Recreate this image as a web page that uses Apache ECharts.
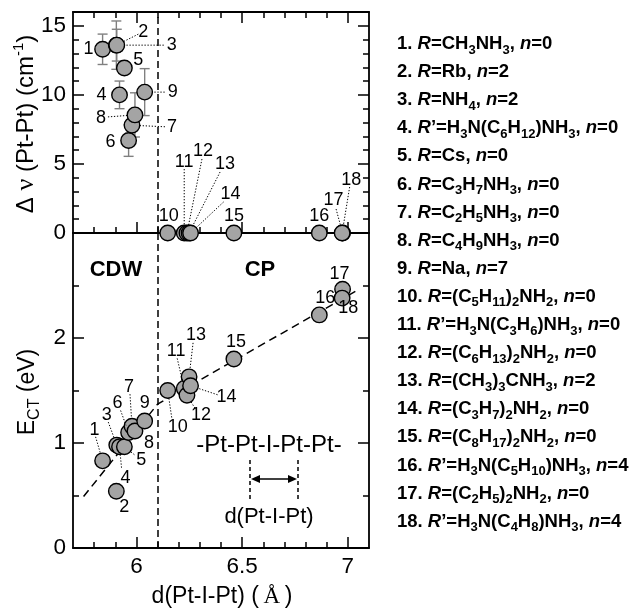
<!DOCTYPE html>
<html><head><meta charset="utf-8">
<script src="https://cdn.jsdelivr.net/npm/echarts@6/dist/echarts.min.js"></script>
<style>html,body{margin:0;padding:0;background:#fff}#c{width:636px;height:609px}</style>
</head><body><div id="c"></div>
<script>
// ---------------- data ----------------
const compoundNo = ['1','2','3','4','5','6','7','8','9','10','11','12','13','14','15','16','17','18'];
const dPtIPt     = [5.840, 5.905, 5.907, 5.920, 5.943, 5.963, 5.979, 5.993, 6.039, 6.148, 6.226, 6.239, 6.249, 6.256, 6.461, 6.865, 6.975, 6.973];
const deltaNu    = [13.3, 13.6, 13.6, 10.0, 11.95, 6.7, 7.8, 8.55, 10.2, 0, 0, 0, 0, 0, 0, 0, 0, 0];
const deltaNuErr = [1.1, 1.75, 1.15, 1.0, 0, 1.15, 0, 1.6, 1.7, 0, 0, 0, 0, 0, 0, 0, 0, 0];
const eCT        = [0.83, 0.54, 0.98, 0.965, 0.965, 1.10, 1.16, 1.115, 1.21, 1.50, 1.52, 1.455, 1.63, 1.545, 1.80, 2.22, 2.465, 2.38];
const fitD = [5.75, 6.10, 7.05];
const fitE = [0.49, 1.37, 2.46];
const boundaryD = 6.1;
const xMajor = [6, 6.5, 7];
const xMinor = [5.8, 5.9, 6.1, 6.2, 6.3, 6.4, 6.6, 6.7, 6.8, 6.9];
const yUpMajor = [0, 5, 10, 15];
const yUpMinor = [1, 2, 3, 4, 6, 7, 8, 9, 11, 12, 13, 14];
const yLowMajor = [0, 1, 2];
const yLowMinor = [0.5, 1.5, 2.5];
const legendLines = [
  "1. {i|R}=CH{s|3}NH{s|3}, {i|n}=0",
  "2. {i|R}=Rb, {i|n}=2",
  "3. {i|R}=NH{s|4}, {i|n}=2",
  "4. {i|R}\u2019=H{s|3}N(C{s|6}H{s|12})NH{s|3}, {i|n}=0",
  "5. {i|R}=Cs, {i|n}=0",
  "6. {i|R}=C{s|3}H{s|7}NH{s|3}, {i|n}=0",
  "7. {i|R}=C{s|2}H{s|5}NH{s|3}, {i|n}=0",
  "8. {i|R}=C{s|4}H{s|9}NH{s|3}, {i|n}=0",
  "9. {i|R}=Na, {i|n}=7",
  "10. {i|R}=(C{s|5}H{s|11}){s|2}NH{s|2}, {i|n}=0",
  "11. {i|R}\u2019=H{s|3}N(C{s|3}H{s|6})NH{s|3}, {i|n}=0",
  "12. {i|R}=(C{s|6}H{s|13}){s|2}NH{s|2}, {i|n}=0",
  "13. {i|R}=(CH{s|3}){s|3}CNH{s|3}, {i|n}=2",
  "14. {i|R}=(C{s|3}H{s|7}){s|2}NH{s|2}, {i|n}=0",
  "15. {i|R}=(C{s|8}H{s|17}){s|2}NH{s|2}, {i|n}=0",
  "16. {i|R}\u2019=H{s|3}N(C{s|5}H{s|10})NH{s|3}, {i|n}=4",
  "17. {i|R}=(C{s|2}H{s|5}){s|2}NH{s|2}, {i|n}=0",
  "18. {i|R}\u2019=H{s|3}N(C{s|4}H{s|8})NH{s|3}, {i|n}=4"
];

// ---------------- label placement (pixel offsets from each point: text dx,dy ; leader start lx,ly) ----------------
const upLabelPos = [
  [-14,0],[27,-13,22,-11],[55,0,47,0],[-18,0],[14,-8],[-18,2],[40,2,33,1.5],[-34,3,-27,2],[28,0,20,0],
  [1,-17],[0,-71,0,-64],[16,-82,15,-74],[36,-69,31,-61],[40,-39,33,-31],[0,-17],[0,-17],[-9,-33,-6.5,-24],[9,-53,7.5,-46]
];
const lowLabelPos = [
  [-8,-31,-7,-24],[8,16],[-10,-30,-8.5,-23],[6,31,2,21],[17,13,10,8],[-11,-29,-8,-22],[-3,-39,-2,-32],[14,12],[0,-18],
  [10,37,4,27],[-8,-37,-7,-30],[14,20,8,13],[7,-42,4,-34],[36,11,27,9],[2,-17],[6,-17],[-3,-15],[6,10]
];

// ---------------- styles ----------------
const FF = '"Liberation Sans", Arial, sans-serif';
const SERIF = '"Liberation Serif", "Times New Roman", serif';
const G0 = {left:73, top:12, width:296, height:221};
const G1 = {left:73, top:233, width:296, height:315};
const MAJ = 11, MIN = 6;

function xAx(grid, pos, ticks, len, labels, line) {
  return {type:'value', gridIndex:grid, position:pos, min:5.7, max:7.1,
    axisLine:{show:line, onZero:false, lineStyle:{color:'#000', width:1.8}},
    axisTick:{show:true, inside:true, length:len, customValues:ticks, lineStyle:{color:'#000', width:1.5}},
    axisLabel:{show:!!labels, customValues:labels||[], fontSize:22.5, fontFamily:FF, color:'#000', margin:7},
    splitLine:{show:false}};
}
function yAx(grid, pos, min, max, ticks, len, labels, line) {
  return {type:'value', gridIndex:grid, position:pos, min:min, max:max,
    axisLine:{show:line, onZero:false, lineStyle:{color:'#000', width:1.8}},
    axisTick:{show:true, inside:true, length:len, customValues:ticks, lineStyle:{color:'#000', width:1.5}},
    axisLabel:{show:!!labels, customValues:labels||[], fontSize:22.5, fontFamily:FF, color:'#000', margin:7},
    splitLine:{show:false}};
}

const xAxes = [
  xAx(0,'bottom',xMajor,MAJ,null,true),   // 0
  xAx(0,'bottom',xMinor,MIN,null,false),
  xAx(0,'top',xMajor,MAJ,null,true),
  xAx(0,'top',xMinor,MIN,null,false),
  xAx(1,'bottom',xMajor,MAJ,xMajor,true), // 4
  xAx(1,'bottom',xMinor,MIN,null,false)
];
const yAxes = [
  yAx(0,'left',0,16,yUpMajor,MAJ,yUpMajor,true),   // 0
  yAx(0,'left',0,16,yUpMinor,MIN,null,false),
  yAx(0,'right',0,16,yUpMajor,MAJ,null,true),
  yAx(0,'right',0,16,yUpMinor,MIN,null,false),
  yAx(1,'left',0,3,yLowMajor,MAJ,yLowMajor,true),  // 4
  yAx(1,'left',0,3,yLowMinor,MIN,null,false),
  yAx(1,'right',0,3,yLowMajor,MAJ,null,true),
  yAx(1,'right',0,3,yLowMinor,MIN,null,false)
];

const markBoundary = {symbol:'none', silent:true, label:{show:false},
  lineStyle:{color:'#000', width:1.5, type:[7,4]}, data:[{xAxis:boundaryD}]};
const pointStyle = {color:'#a4a4a4', borderColor:'#000', borderWidth:1.4, opacity:1};

const chart = echarts.init(document.getElementById('c'), null, {renderer:'canvas'});
chart.setOption({
  animation:false,
  backgroundColor:'#fff',
  grid:[G0, G1],
  xAxis:xAxes,
  yAxis:yAxes,
  series:[
    {type:'custom', xAxisIndex:0, yAxisIndex:0, z:2,
     data:dPtIPt.map((d,i)=>[d, deltaNu[i], deltaNuErr[i]]),
     renderItem:function(params, api){
       const x=api.value(0), y=api.value(1), e=api.value(2);
       if (!e) return null;
       const t=api.coord([x,y+e]), b=api.coord([x,y-e]), hw=5;
       const st={stroke:'#808080', lineWidth:1.4};
       return {type:'group', children:[
         {type:'line', shape:{x1:t[0],y1:t[1],x2:b[0],y2:b[1]}, style:st},
         {type:'line', shape:{x1:t[0]-hw,y1:t[1],x2:t[0]+hw,y2:t[1]}, style:st},
         {type:'line', shape:{x1:b[0]-hw,y1:b[1],x2:b[0]+hw,y2:b[1]}, style:st}
       ]};
     }},
    {type:'scatter', xAxisIndex:0, yAxisIndex:0, z:3, symbol:'circle', symbolSize:15.5,
     data:dPtIPt.map((d,i)=>[d, deltaNu[i]]), itemStyle:pointStyle, markLine:markBoundary},
    {type:'line', xAxisIndex:4, yAxisIndex:4, z:1, symbol:'none',
     data:fitD.map((d,i)=>[d, fitE[i]]), lineStyle:{color:'#000', width:1.5, type:[8,5]}},
    {type:'scatter', xAxisIndex:4, yAxisIndex:4, z:3, symbol:'circle', symbolSize:15.5,
     data:dPtIPt.map((d,i)=>[d, eCT[i]]), itemStyle:pointStyle, markLine:markBoundary}
  ]
});

// ---------------- annotations ----------------
function richFont(style, weight, size, family){ return {fontStyle:style, fontWeight:weight, fontSize:size, fontFamily:family, font:style+' '+weight+' '+size+'px '+family, fill:'#000'}; }
const graphics = [];
const dotted = {stroke:'#000', lineWidth:1, lineDash:[1.3,1.7]};
function addLabels(seriesIndex, yVals, pos) {
  for (let i=0;i<dPtIPt.length;i++) {
    const p = chart.convertToPixel({seriesIndex:seriesIndex}, [dPtIPt[i], yVals[i]]);
    const o = pos[i];
    graphics.push({type:'text', x:p[0]+o[0], y:p[1]+o[1], z:100,
      style:{text:compoundNo[i], font:'normal 18px '+FF, fill:'#000', align:'center', verticalAlign:'middle', textAlign:'center', textVerticalAlign:'middle'}});
    if (o.length>2) {
      const sx=p[0]+o[2], sy=p[1]+o[3];
      const len=Math.hypot(o[2],o[3]), r=7.5;
      const ex=p[0]+o[2]/len*r, ey=p[1]+o[3]/len*r;
      graphics.push({type:'line', z:100, shape:{x1:sx,y1:sy,x2:ex,y2:ey}, style:dotted});
    }
  }
}
addLabels(1, deltaNu, upLabelPos);
addLabels(3, eCT, lowLabelPos);

// legend list
const legRich = {
  i: richFont('italic','bold',18.5,FF),
  s: Object.assign(richFont('normal','bold',13,FF), {verticalAlign:'bottom', lineHeight:15})
};
legendLines.forEach((t,k)=>{
  graphics.push({type:'text', x:397, y:44+k*28.1, z:100,
    style:{text:t, font:'normal bold 18.5px '+FF, fontWeight:'bold', fontSize:18.5, fontFamily:FF, lineHeight:25, fill:'#000', rich:legRich,
      align:'left', verticalAlign:'middle', textAlign:'left', textVerticalAlign:'middle'}});
});

// axis titles
graphics.push({type:'text', x:26, y:124, rotation:Math.PI/2, z:100,
  style:{text:'\u0394 {n|\u03bd} (Pt-Pt) (cm{sup|-1})', font:'normal normal 24px '+FF, fontSize:24, fontFamily:FF, lineHeight:30, fill:'#000',
    rich:{n:Object.assign(richFont('normal','normal',26,SERIF),{lineHeight:30}), sup:Object.assign(richFont('normal','normal',15,FF),{verticalAlign:'top', lineHeight:17})},
    align:'center', verticalAlign:'middle', textAlign:'center', textVerticalAlign:'middle'}});
graphics.push({type:'text', x:28, y:392, rotation:Math.PI/2, z:100,
  style:{text:'E{sub|CT} (eV)', font:'normal normal 23px '+FF, fontSize:23, fontFamily:FF, lineHeight:30, fill:'#000',
    rich:{sub:Object.assign(richFont('normal','normal',16,FF),{verticalAlign:'bottom', lineHeight:18})},
    align:'center', verticalAlign:'middle', textAlign:'center', textVerticalAlign:'middle'}});
graphics.push({type:'text', x:222, y:597, z:100,
  style:{text:'d(Pt-I-Pt) (\u2009{a|\u00c5}\u2009)', font:'normal normal 23px '+FF, fontSize:23, fontFamily:FF, lineHeight:28, fill:'#000',
    rich:{a:richFont('normal','normal',23,SERIF)},
    align:'center', verticalAlign:'middle', textAlign:'center', textVerticalAlign:'middle'}});

// region labels
graphics.push({type:'text', x:116, y:270, z:100, style:{text:'CDW', font:'normal bold 22px '+FF, fill:'#000', align:'center', verticalAlign:'middle', textAlign:'center', textVerticalAlign:'middle'}});
graphics.push({type:'text', x:260, y:270, z:100, style:{text:'CP', font:'normal bold 22px '+FF, fill:'#000', align:'center', verticalAlign:'middle', textAlign:'center', textVerticalAlign:'middle'}});

// inset chain diagram
graphics.push({type:'text', x:269, y:445, z:100, style:{text:'-Pt-Pt-I-Pt-Pt-', font:'normal 24px '+FF, fill:'#000', align:'center', verticalAlign:'middle', textAlign:'center', textVerticalAlign:'middle'}});
graphics.push({type:'text', x:269, y:517, z:100, style:{text:'d(Pt-I-Pt)', font:'normal 22px '+FF, fill:'#000', align:'center', verticalAlign:'middle', textAlign:'center', textVerticalAlign:'middle'}});
const ax1=250, ax2=298, ay=479;
graphics.push({type:'line', z:100, shape:{x1:ax1,y1:460,x2:ax1,y2:500}, style:{stroke:'#000', lineWidth:1.5, lineDash:[4,3]}});
graphics.push({type:'line', z:100, shape:{x1:ax2,y1:460,x2:ax2,y2:500}, style:{stroke:'#000', lineWidth:1.5, lineDash:[4,3]}});
graphics.push({type:'line', z:100, shape:{x1:ax1+6,y1:ay,x2:ax2-6,y2:ay}, style:{stroke:'#000', lineWidth:1.6}});
graphics.push({type:'polygon', z:100, shape:{points:[[ax1+1,ay],[ax1+10,ay-4],[ax1+10,ay+4]]}, style:{fill:'#000'}});
graphics.push({type:'polygon', z:100, shape:{points:[[ax2-1,ay],[ax2-10,ay-4],[ax2-10,ay+4]]}, style:{fill:'#000'}});

chart.setOption({graphic:graphics});
</script>
</body></html>
